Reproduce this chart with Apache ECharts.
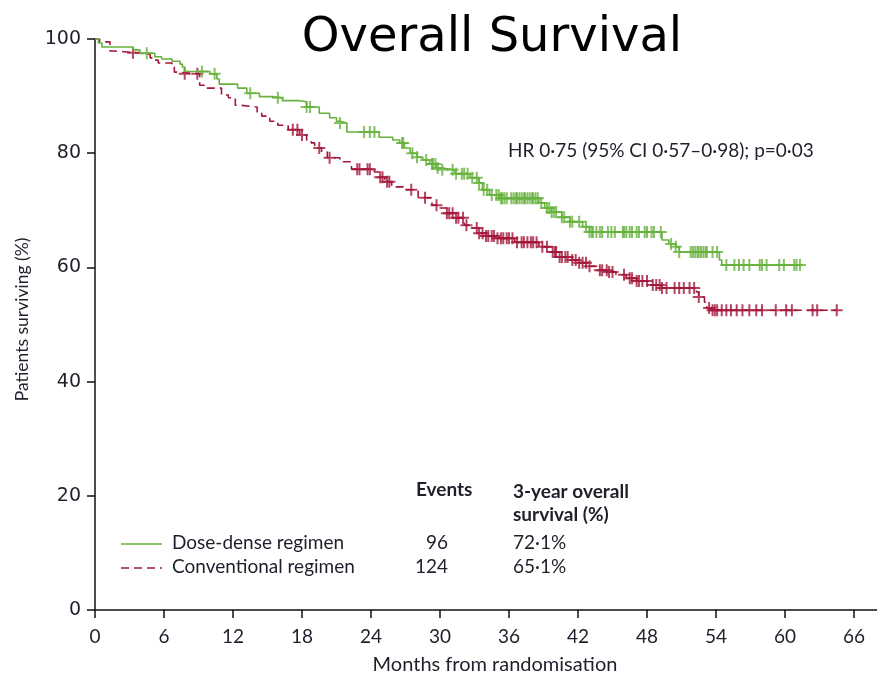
<!DOCTYPE html>
<html>
<head>
<meta charset="utf-8">
<title>Overall Survival</title>
<script src="https://cdn.jsdelivr.net/npm/echarts@6/dist/echarts.min.js"></script>
<style>
  html, body { margin: 0; padding: 0; background: #ffffff; }
  #chart { width: 877px; height: 675px; }
</style>
</head>
<body>
<div id="chart"></div>
<script>
// Kaplan-Meier overall survival, two treatment arms.
// Each arm: event times (months) with the survival (%) reached after the drop,
// plus the censoring times drawn as "+" marks on the curve.

const xTicks = [0, 6, 12, 18, 24, 30, 36, 42, 48, 54, 60, 66];
const yTicks = [0, 20, 40, 60, 80, 100];

const doseDenseTimes = [0, 0.3, 0.6, 3.3, 3.9, 5.2, 5.8, 6.7, 7.4, 7.6, 7.8, 10.0, 10.6, 10.8, 12.4,
  13.2, 14.3, 15.5, 16.3, 17.8, 18.4, 19.5, 20.4, 21.0, 21.3, 21.9, 24.7, 25.9, 26.5, 26.9,
  27.4, 28.0, 28.5, 29.1, 29.7, 30.2, 31.3, 32.6, 33.4, 33.7, 34.3, 35.2, 38.6, 39.1, 39.7,
  40.6, 41.3, 42.4, 43.0, 49.3, 49.9, 50.5, 50.8, 54.3, 54.5];
const doseDenseSurvival = [100, 99.3, 98.6, 98.1, 97.5, 96.9, 96.5, 96.1, 95.6, 95.1, 94.3, 93.9, 93.0, 92.1, 91.4,
  90.5, 89.9, 89.7, 89.2, 89.0, 88.1, 87.0, 86.2, 85.6, 85.3, 83.7, 82.8, 82.3, 81.8, 80.9,
  80.0, 79.3, 78.8, 78.1, 77.4, 77.1, 76.4, 75.7, 74.8, 73.6, 72.7, 72.1, 71.3, 70.4, 69.7,
  68.8, 68.0, 67.1, 66.2, 64.8, 64.1, 63.6, 62.7, 61.3, 60.4];
const doseDenseCensored = [4.5, 9.3, 10.4, 13.5, 15.9, 18.4, 18.7, 21.3, 23.4, 23.9, 24.3, 26.7, 26.8,
  27.6, 28.0, 28.8, 29.3, 29.4, 29.6, 29.8, 30.2, 31.1, 31.4, 31.9, 32.1, 32.4, 32.8, 33.2, 33.4,
  33.8, 34.1, 34.5, 34.9, 35.1, 35.3, 35.4, 35.6, 35.8, 36.2, 36.4, 36.6, 36.7, 36.9, 37.1, 37.3,
  37.4, 37.6, 37.8, 38.0, 38.1, 38.3, 38.5, 38.8, 39.3, 39.5, 39.7, 39.9, 40.1, 40.6, 40.8, 41.3,
  41.5, 42.1, 42.7, 43.0, 43.2, 43.3, 43.6, 43.9, 44.1, 44.6, 44.9, 45.2, 45.9, 46.0, 46.2, 46.5,
  46.7, 47.1, 47.3, 47.8, 48.0, 48.4, 48.6, 49.2, 50.1, 50.5, 50.8, 51.8, 52.0, 52.2, 52.4, 52.5,
  52.7, 52.9, 53.1, 53.2, 53.7, 54.1, 54.9, 55.6, 56.0, 56.4, 56.9, 57.8, 58.0, 58.4, 59.5, 59.9,
  60.8, 61.0, 61.3];

const conventionalTimes = [0, 0.4, 1.3, 1.7, 3.6, 4.8, 5.0, 5.5, 6.7, 6.9, 7.1, 9.1, 9.5, 11.0, 11.6,
  12.2, 12.6, 14.1, 14.5, 15.2, 15.9, 16.8, 17.8, 18.4, 18.8, 19.1, 19.7, 20.2, 21.3, 22.3,
  24.3, 24.8, 25.2, 25.8, 27.1, 28.1, 29.3, 30.0, 30.6, 31.3, 32.1, 32.6, 33.4, 34.0, 34.9,
  36.5, 38.6, 39.8, 40.4, 41.5, 42.1, 43.0, 43.9, 44.7, 45.3, 46.2, 47.1, 48.2, 49.3, 52.3,
  52.5, 53.0, 53.2, 53.6];
const conventionalSurvival = [100, 99.5, 97.9, 97.6, 97.3, 96.7, 96.3, 95.8, 95.1, 94.2, 93.9, 91.9, 91.4, 90.2, 89.7,
  88.4, 88.1, 87.2, 86.5, 85.6, 84.9, 84.1, 83.2, 82.3, 81.8, 80.9, 80.2, 79.2, 78.5, 77.2,
  76.7, 75.8, 75.0, 74.1, 73.6, 72.2, 70.9, 70.4, 69.5, 68.7, 67.4, 66.9, 66.0, 65.5, 65.1,
  64.4, 63.6, 62.7, 61.8, 61.3, 60.8, 60.2, 59.5, 59.2, 58.7, 58.1, 57.6, 56.9, 56.4, 55.7,
  54.8, 53.9, 52.9, 52.5];
const conventionalCensored = [3.3, 7.8, 8.9, 17.2, 17.6, 18.0, 19.5, 20.4, 22.8, 23.0, 23.7, 23.9, 24.8,
  25.0, 25.4, 25.6, 27.5, 28.7, 29.7, 30.6, 30.8, 31.1, 31.4, 31.6, 32.0, 32.3, 33.2, 33.4, 33.7,
  34.0, 34.2, 34.5, 34.7, 35.0, 35.3, 35.5, 35.8, 36.0, 36.3, 36.7, 37.1, 37.3, 37.6, 37.9, 38.1,
  38.4, 38.9, 39.3, 39.8, 40.0, 40.1, 40.4, 40.6, 40.9, 41.1, 41.5, 41.8, 42.1, 42.4, 42.7, 43.0,
  43.9, 44.1, 44.5, 44.7, 45.0, 46.0, 46.5, 46.7, 47.1, 47.3, 47.6, 48.0, 48.5, 48.8, 49.1, 49.3,
  49.7, 50.4, 50.8, 51.2, 51.7, 52.1, 52.5, 53.4, 53.7, 53.9, 54.1, 54.5, 54.9, 55.3, 55.8, 56.3,
  56.9, 57.5, 58.0, 59.2, 60.1, 60.6, 62.4, 62.8, 64.5];

const armNames = ['Dose-dense regimen', 'Conventional regimen'];
const armEvents = ['96', '124'];
const armThreeYear = ['72·1%', '65·1%'];
const hrText = 'HR 0·75 (95% CI 0·57–0·98); p=0·03';

const GREEN = '#67b13c';
const RED = '#a3173a';
const INK = '#1f1f2b';
const BODY_FONT = "Lato, 'Liberation Sans', sans-serif";

// Step curve points; the line runs on to the last follow-up (last censored time).
function stepLine(times, surv, censored) {
  const pts = times.map((t, i) => [t, surv[i]]);
  const last = censored[censored.length - 1];
  if (last > times[times.length - 1]) pts.push([last, surv[surv.length - 1]]);
  return pts;
}
// Curve value at time t (value after all drops at or before t).
function survivalAt(times, surv, t) {
  let v = surv[0];
  for (let i = 0; i < times.length; i++) { if (times[i] <= t) v = surv[i]; else break; }
  return v;
}
function censorMarks(times, surv, censored) {
  return censored.map(t => [t, survivalAt(times, surv, t)]);
}

const PLUS = 'path://M5,0H7V5H12V7H7V12H5V7H0V5H5Z';

const chart = echarts.init(document.getElementById('chart'), null, { renderer: 'canvas' });

chart.setOption({
  animation: false,
  backgroundColor: '#ffffff',
  title: {
    text: 'Overall Survival',
    left: 487, top: 10, textAlign: 'center',
    textStyle: { fontFamily: 'DejaVu Sans', fontSize: 48, fontWeight: 'normal', color: '#000000' }
  },
  grid: { left: 95, top: 39, width: 782, height: 571, containLabel: false, outerBoundsMode: 'none' },
  xAxis: {
    type: 'value', min: 0, max: 68,
    name: 'Months from randomisation', nameLocation: 'middle', nameGap: 45,
    nameTextStyle: { fontFamily: BODY_FONT, fontSize: 20, color: INK, padding: [0, 0, 0, 18] },
    axisLine: { show: true, onZero: false, lineStyle: { color: '#111111', width: 1.5 } },
    axisTick: { show: true, length: 8, customValues: xTicks, lineStyle: { color: '#111111', width: 1.5 } },
    axisLabel: { customValues: xTicks, margin: 17, fontFamily: BODY_FONT, fontSize: 19, color: INK },
    splitLine: { show: false }
  },
  yAxis: {
    type: 'value', min: 0, max: 100, interval: 20,
    name: 'Patients surviving (%)', nameLocation: 'middle', nameGap: 64, nameRotate: 90,
    nameTextStyle: { fontFamily: BODY_FONT, fontSize: 17.5, color: INK, padding: [0, 0, 0, 10] },
    axisLine: { show: true, lineStyle: { color: '#111111', width: 1.5 } },
    axisTick: { show: true, length: 8, customValues: yTicks, lineStyle: { color: '#111111', width: 1.5 } },
    axisLabel: { customValues: yTicks, margin: 14, fontFamily: 'DejaVu Sans', fontSize: 19, color: INK },
    splitLine: { show: false }
  },
  series: [
    {
      name: armNames[1], type: 'line', step: 'end', symbol: 'none',
      data: stepLine(conventionalTimes, conventionalSurvival, conventionalCensored),
      lineStyle: { color: RED, width: 1.6, type: [8, 5] }, z: 2
    },
    {
      name: armNames[1] + ' censored', type: 'scatter', symbol: PLUS, symbolSize: [12, 12],
      data: censorMarks(conventionalTimes, conventionalSurvival, conventionalCensored),
      itemStyle: { color: RED }, z: 3
    },
    {
      name: armNames[0], type: 'line', step: 'end', symbol: 'none',
      data: stepLine(doseDenseTimes, doseDenseSurvival, doseDenseCensored),
      lineStyle: { color: GREEN, width: 1.6 }, z: 4
    },
    {
      name: armNames[0] + ' censored', type: 'scatter', symbol: PLUS, symbolSize: [12, 12],
      data: censorMarks(doseDenseTimes, doseDenseSurvival, doseDenseCensored),
      itemStyle: { color: GREEN }, z: 5
    }
  ],
  graphic: [
    { type: 'text', left: 508, top: 141, style: { text: hrText, font: '19px ' + BODY_FONT, fill: INK } },
    // Summary table under the curves
    { type: 'text', left: 416, top: 480, style: { text: 'Events', font: 'bold 19px ' + BODY_FONT, fill: INK } },
    { type: 'text', left: 513, top: 480, style: { text: '3-year overall\nsurvival (%)', font: 'bold 19px ' + BODY_FONT, fill: INK, lineHeight: 23 } },
    { type: 'line', shape: { x1: 121, y1: 544, x2: 162, y2: 544 }, style: { stroke: GREEN, lineWidth: 1.6 } },
    { type: 'line', shape: { x1: 121, y1: 568, x2: 162, y2: 568 }, style: { stroke: RED, lineWidth: 1.6, lineDash: [8, 5] } },
    { type: 'text', left: 172, top: 533, style: { text: armNames[0], font: '19px ' + BODY_FONT, fill: INK } },
    { type: 'text', left: 172, top: 557, style: { text: armNames[1], font: '19px ' + BODY_FONT, fill: INK } },
    { type: 'text', x: 448, y: 533, style: { text: armEvents[0], font: '19px ' + BODY_FONT, fill: INK, align: 'right' } },
    { type: 'text', x: 448, y: 557, style: { text: armEvents[1], font: '19px ' + BODY_FONT, fill: INK, align: 'right' } },
    { type: 'text', left: 513, top: 533, style: { text: armThreeYear[0], font: '19px ' + BODY_FONT, fill: INK } },
    { type: 'text', left: 513, top: 557, style: { text: armThreeYear[1], font: '19px ' + BODY_FONT, fill: INK } }
  ]
});
</script>
</body>
</html>
